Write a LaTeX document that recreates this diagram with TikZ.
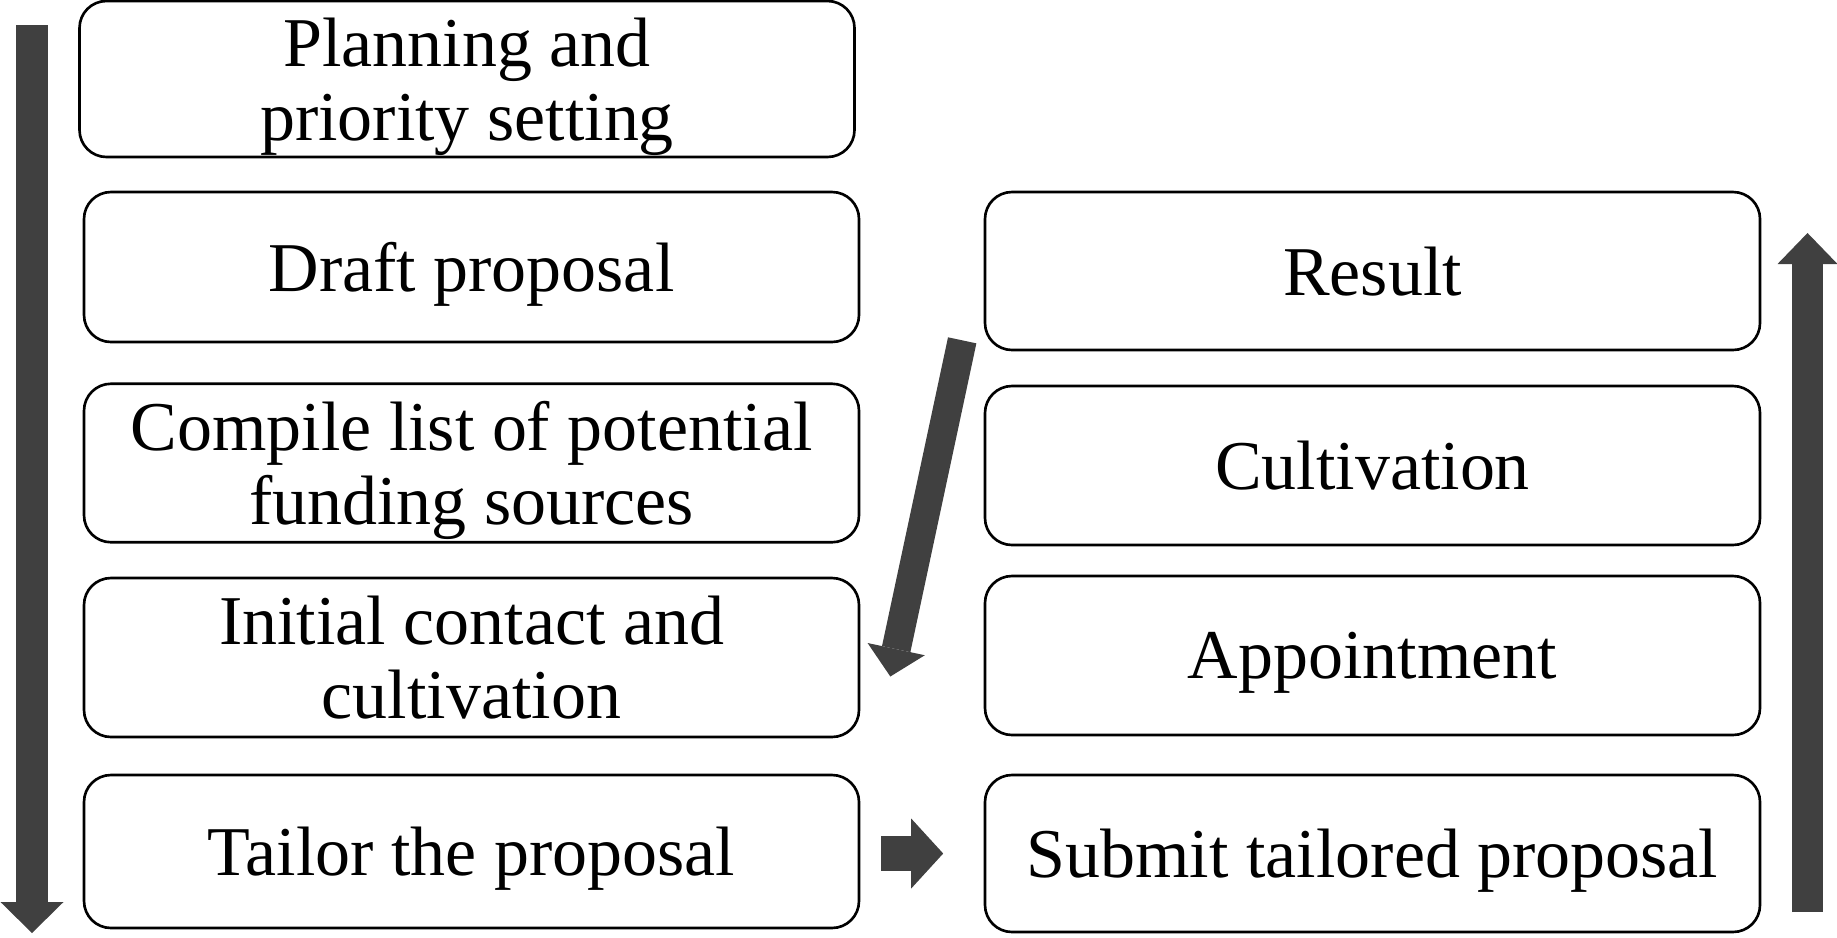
\documentclass[tikz,border=0pt]{standalone}
\usepackage{fontspec}
\setmainfont{Liberation Serif}
\usetikzlibrary{arrows.meta}
\definecolor{arrowgray}{HTML}{404040}
\tikzset{
  stepbox/.style={draw, line width=0.75pt, rounded corners=0.27cm,
    minimum width=7.75cm, inner sep=0pt, align=center, text depth=0pt,
    font=\fontsize{19.9}{21}\selectfont},
  blockarrow/.style n args={3}{arrowgray, line width=#1,
    -{Triangle[width=#2, length=#3, line width=0pt]}}
}
\begin{document}
\begin{tikzpicture}
\useasboundingbox (0,0) rectangle (18.37,9.37);
\def\xl{4.715};
\def\xr{13.725};

% left column
\node[stepbox, minimum height=1.56cm] (plan) at (4.67, 8.58) {Planning and\\priority setting};
\node[stepbox, minimum height=1.50cm] (draft) at (\xl, 6.70) {Draft proposal};
\node[stepbox, minimum height=1.585cm] (compile) at (\xl, 4.74) {Compile list of potential\\funding sources};
\node[stepbox, minimum height=1.59cm] (contact) at (\xl, 2.795) {Initial contact and\\cultivation};
\node[stepbox, minimum height=1.53cm] (tailor) at (\xl, 0.855) {Tailor the proposal};

% right column
\node[stepbox, minimum height=1.58cm] (result) at (\xr, 6.66) {Result};
\node[stepbox, minimum height=1.59cm] (cultiv) at (\xr, 4.715) {Cultivation};
\node[stepbox, minimum height=1.59cm] (appoint) at (\xr, 2.815) {Appointment};
\node[stepbox, minimum height=1.57cm] (submit) at (\xr, 0.835) {Submit tailored proposal};

% flow arrows
\coordinate (downtop) at (0.32, 9.12);
\coordinate (downend) at (0.32, 0.04);
\coordinate (uptop) at (18.075, 7.04);
\coordinate (upend) at (18.075, 0.25);
\coordinate (diagstart) at ([xshift=-0.215cm, yshift=0.11cm]result.south west);
\coordinate (diagend) at ([xshift=0.30cm, yshift=-0.19cm]contact.east);

\draw[blockarrow={0.32cm}{0.63cm}{0.31cm}] (downtop) -- (downend);
\draw[blockarrow={0.31cm}{0.60cm}{0.31cm}] (upend) -- (uptop);
\draw[blockarrow={0.29cm}{0.585cm}{0.28cm}] (diagstart) -- (diagend);
\draw[blockarrow={0.35cm}{0.70cm}{0.32cm}] ([xshift=0.21cm]tailor.east |- submit.west) -- ([xshift=-0.405cm]submit.west);

\end{tikzpicture}
\end{document}
